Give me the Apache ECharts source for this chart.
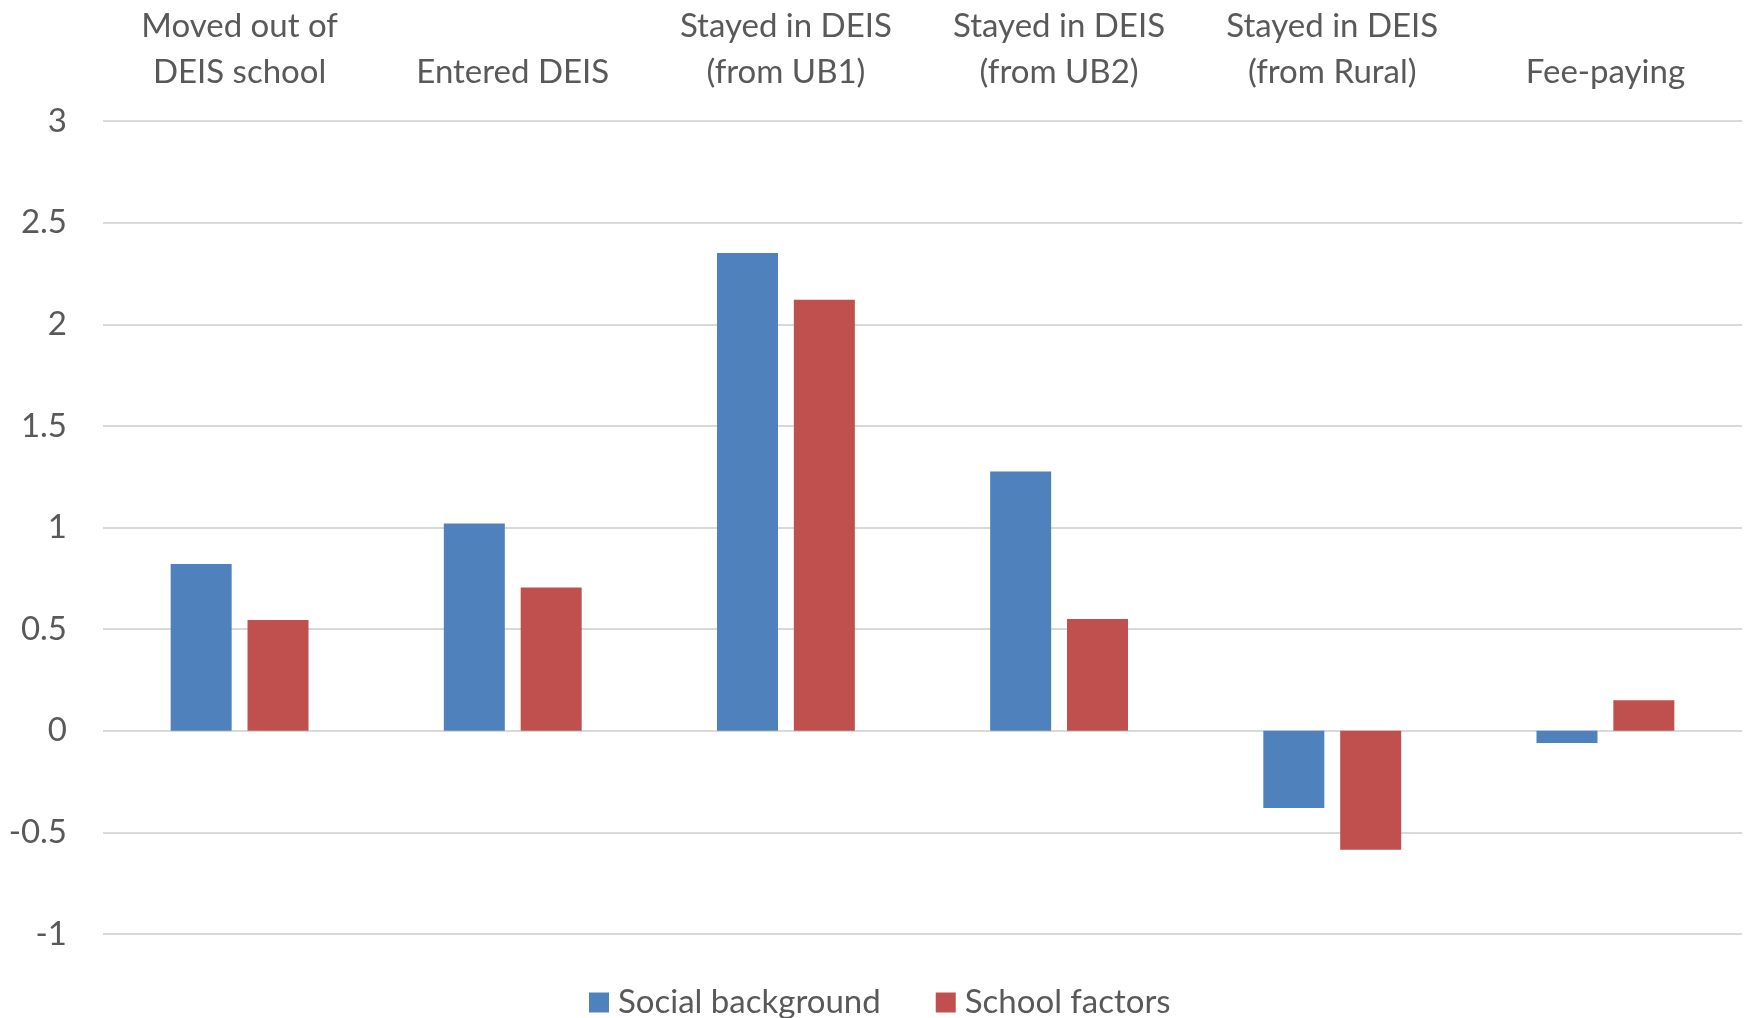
<!DOCTYPE html>
<html>
<head>
<meta charset="utf-8">
<script src="https://cdn.jsdelivr.net/npm/echarts@6/dist/echarts.min.js"></script>
<style>
html,body{margin:0;padding:0;background:#fff;}
#chart{width:1744px;height:1018px;}
</style>
</head>
<body>
<div id="chart"></div>
<script>
const categories = ["Moved out of\nDEIS school", "Entered DEIS", "Stayed in DEIS\n(from UB1)", "Stayed in DEIS\n(from UB2)", "Stayed in DEIS\n(from Rural)", "Fee-paying"];
const socialBackground = [0.82, 1.02, 2.35, 1.275, -0.38, -0.06];
const schoolFactors = [0.545, 0.705, 2.12, 0.55, -0.585, 0.15];
const seriesNames = ["Social background", "School factors"];

const FONT = "Lato";
const TXT = "#595959";
const chart = echarts.init(document.getElementById('chart'), null, {renderer: 'canvas'});
chart.setOption({
  animation: false,
  backgroundColor: '#ffffff',
  grid: {left: 103, right: 2, top: 121, bottom: 84, containLabel: false},
  legend: {
    data: seriesNames,
    left: 589, top: 986, padding: 0,
    itemWidth: 20, itemHeight: 20, itemGap: 55,
    icon: 'rect',
    textStyle: {color: TXT, fontFamily: FONT, fontSize: 33, padding: [0,0,0,4]}
  },
  xAxis: {
    type: 'category',
    position: 'top',
    data: categories,
    axisLine: {show: false},
    axisTick: {show: false},
    splitLine: {show: false},
    axisLabel: {
      interval: 0, margin: 26,
      color: TXT, fontFamily: FONT, fontSize: 33, lineHeight: 46
    }
  },
  yAxis: {
    type: 'value',
    min: -1, max: 3, interval: 0.5,
    axisLine: {show: false},
    axisTick: {show: false},
    splitLine: {lineStyle: {color: '#d9d9d9', width: 2}},
    axisLabel: {margin: 36, color: TXT, fontFamily: FONT, fontSize: 33}
  },
  series: [
    {name: seriesNames[0], type: 'bar', data: socialBackground, barWidth: 61, barGap: '26%',
     itemStyle: {color: '#4f81bd'}},
    {name: seriesNames[1], type: 'bar', data: schoolFactors, barWidth: 61, barGap: '26%',
     itemStyle: {color: '#c0504d'}}
  ]
});
</script>
</body>
</html>
